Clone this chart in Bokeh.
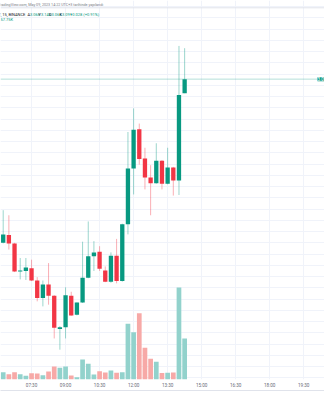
import pandas as pd
from bokeh.plotting import figure
from bokeh.models import Range1d, LinearAxis, FixedTicker, Span, Label, ColumnDataSource, DatetimeAxis
from bokeh.embed import file_html
from bokeh.resources import INLINE

day = "2023-05-09"
times = ["06:15", "06:30", "06:45", "07:00", "07:15", "07:30", "07:45", "08:00",
         "08:15", "08:30", "08:45", "09:00", "09:15", "09:30", "09:45", "10:00",
         "10:15", "10:30", "10:45", "11:00", "11:15", "11:30", "11:45", "12:00",
         "12:15", "12:30", "12:45", "13:00", "13:15", "13:30", "13:45", "14:00", "14:15"]
opens = [2.800, 2.814, 2.799, 2.749, 2.750, 2.755, 2.733, 2.702, 2.726, 2.706, 2.647,
         2.650, 2.706, 2.672, 2.694, 2.738, 2.776, 2.784, 2.751, 2.731, 2.777, 2.732,
         2.833, 2.932, 3.002, 2.950, 2.916, 2.906, 2.946, 2.905, 2.934, 2.911, 3.066]
highs = [2.858, 2.849, 2.800, 2.773, 2.773, 2.770, 2.739, 2.733, 2.764, 2.707, 2.652,
         2.721, 2.713, 2.694, 2.802, 2.838, 2.803, 2.794, 2.758, 2.783, 2.807, 2.834,
         2.997, 3.039, 3.012, 2.969, 2.938, 2.977, 2.947, 2.969, 2.935, 3.150, 3.146]
lows = [2.799, 2.788, 2.748, 2.735, 2.734, 2.732, 2.696, 2.687, 2.690, 2.630, 2.610,
        2.630, 2.670, 2.671, 2.693, 2.737, 2.750, 2.750, 2.730, 2.729, 2.728, 2.731,
        2.815, 2.886, 2.939, 2.895, 2.849, 2.905, 2.895, 2.904, 2.884, 2.885, 3.066]
closes = [2.815, 2.799, 2.749, 2.751, 2.756, 2.733, 2.702, 2.726, 2.706, 2.649, 2.650,
          2.707, 2.671, 2.694, 2.738, 2.776, 2.783, 2.754, 2.731, 2.777, 2.732, 2.833,
          2.932, 3.001, 2.949, 2.916, 2.906, 2.946, 2.905, 2.934, 2.911, 3.063, 3.091]
volumes_k = [10.3, 7.5, 10.3, 7.5, 5.2, 8.9, 8.5, 6.1, 11.3, 18.3, 16.5, 18.3, 5.6, 3.2,
             28.2, 22.1, 7.0, 11.7, 9.9, 12.7, 9.4, 10.3, 78.5, 66.6, 93.4, 44.6, 29.2,
             24.9, 9.2, 9.6, 9.9, 129.6, 57.75]
tick_labels = ["06:00", "07:30", "09:00", "10:30", "12:00", "13:30", "15:00", "16:30", "18:00", "19:30"]

UP = "#089981"
DOWN = "#f23645"
VOL_UP = "#92d2cc"
VOL_DOWN = "#f7a9a7"
GRID = "#f0f3fa"

def ms(hhmm):
    return pd.Timestamp(f"{day} {hhmm}").value // 10**6

xs = [ms(t) for t in times]
up = [c >= o for o, c in zip(opens, closes)]
src = ColumnDataSource(dict(
    x=xs, open=opens, high=highs, low=lows, close=closes, vol=volumes_k,
    top=[max(o, c) for o, c in zip(opens, closes)],
    bottom=[min(o, c) for o, c in zip(opens, closes)],
    color=[UP if u else DOWN for u in up],
    vcolor=[VOL_UP if u else VOL_DOWN for u in up],
))

W, H = 324, 400
FRAME_H = 379
bar_ms = 15 * 60 * 1000
px_per_bar = 5.67
ms_per_px = bar_ms / px_per_bar
x_start = xs[0] - 2.7 * ms_per_px
x_end = x_start + W * ms_per_px

price_per_px = 0.08 / 45.0
y_end = 3.066 + 92.7 * price_per_px
y_start = y_end - FRAME_H * price_per_px

vol_per_px = 57.75 / 41.0

p = figure(width=W, height=H, output_backend="svg", toolbar_location=None,
           x_axis_type="datetime", x_range=Range1d(x_start, x_end),
           y_range=Range1d(y_start, y_end), min_border_left=0, min_border_right=0,
           min_border_top=0, min_border_bottom=H - FRAME_H)
p.outline_line_color = None
p.background_fill_color = "white"
p.border_fill_color = "white"
p.extra_y_ranges = {"vol": Range1d(0, FRAME_H * vol_per_px)}

tick_ms = [ms(t) if t >= "06:00" else ms(t) for t in tick_labels]
xa = p.xaxis[0]
xa.ticker = FixedTicker(ticks=tick_ms)
xa.major_label_overrides = {t: lab for t, lab in zip(tick_ms, tick_labels)}
xa.axis_line_color = None
xa.major_tick_line_color = None
xa.minor_tick_line_color = None
xa.major_tick_out = 0
xa.major_tick_in = 0
xa.major_label_standoff = 3
xa.major_label_text_font = "Roboto"
xa.major_label_text_font_size = "4.6px"
xa.major_label_text_color = "#6a6d78"

sep = DatetimeAxis(ticker=FixedTicker(ticks=[]), axis_line_color="#e0e3eb",
                   major_tick_line_color=None, minor_tick_line_color=None,
                   major_label_text_font_size="0px")
p.add_layout(sep, "below")

p.yaxis.visible = False
p.yaxis[0].ticker = FixedTicker(ticks=[round(2.50 + 0.02 * k, 2) for k in range(40)])
p.xgrid.grid_line_color = GRID
p.ygrid.grid_line_color = GRID

# volume
p.vbar(x="x", width=bar_ms * 0.83, top="vol", bottom=0, fill_color="vcolor",
       line_color=None, source=src, y_range_name="vol")
# wicks
p.segment(x0="x", y0="low", x1="x", y1="high", line_color="color", line_alpha=0.4,
          line_width=1, source=src)
# bodies
p.vbar(x="x", width=bar_ms * 0.76, top="top", bottom="bottom", fill_color="color",
       line_color=None, source=src)

# price line
last = closes[-1]
p.add_layout(Span(location=last, dimension="width", line_color=UP, line_alpha=0.3, line_width=1))
p.add_layout(Label(x=x_start + 317 * ms_per_px, y=last, text=f"{last:.3f}",
                   text_font="Roboto", text_font_size="4.6px", text_color="white",
                   text_baseline="middle", background_fill_color=UP,
                   x_offset=0, y_offset=0))

# header and legend
def lab(x_px, y_px, text, color, size="4px"):
    p.add_layout(Label(x=x_start + x_px * ms_per_px, y=y_end - y_px * price_per_px,
                       text=text, text_font="Roboto", text_font_size=size,
                       text_color=color, text_baseline="middle", text_align="left"))

lab(-2.2, 4.5, "TradingView.com, May 09, 2023 14:22 UTC+3 tarihinde yapılandı", "#787b86", "3.7px")
p.add_layout(Span(location=y_end - 7.3 * price_per_px, dimension="width",
                  line_color="#e0e3eb", line_width=1))
lab(-2.0, 13.5, "T, 15, BINANCE", "#131722")
segs = [(27.0, "A", "3.066"), (38.0, "Y", "3.146"), (48.5, "D", "3.066"), (59.0, "K", "3.091")]
for xp, k, v in segs:
    lab(xp, 13.5, k, "#131722")
    lab(xp + 2.4, 13.5, v, UP)
lab(69.5, 13.5, "+0.028 (+0.91%)", UP)
lab(0.0, 18.7, "57.75K", UP)

open("out.html", "w").write(file_html(p, INLINE))
